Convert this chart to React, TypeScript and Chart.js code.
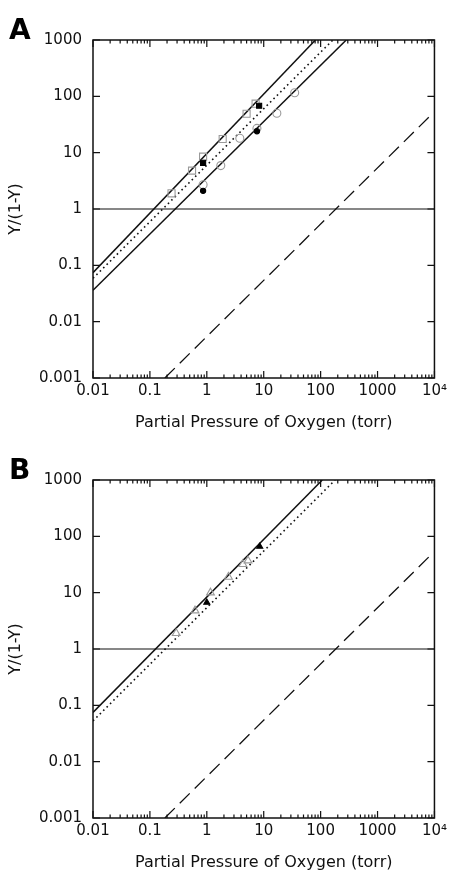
import React, { useEffect, useRef } from 'react';
import { Chart, registerables } from 'chart.js';

Chart.register(...registerables);

const FONT = 'DejaVu Sans';

const PANEL_LETTERS = ['A', 'B'];
const X_TICKS = [0.01, 0.1, 1, 10, 100, 1000, 10000];
const X_TICK_LABELS = ['0.01', '0.1', '1', '10', '100', '1000', '10\u2074'];
const Y_TICKS = [0.001, 0.01, 0.1, 1, 10, 100, 1000];
const Y_TICK_LABELS = ['0.001', '0.01', '0.1', '1', '10', '100', '1000'];
const X_TITLE = 'Partial Pressure of Oxygen (torr)';
const Y_TITLE = 'Y/(1-Y)';

// Reference line Y/(1-Y) = 1
const UNITY_X = [0.01, 10000];
const UNITY_Y = [1, 1];

// Panel A markers
const A_OPEN_SQ_X = [0.24, 0.55, 0.86, 1.9, 5.0, 7.2];
const A_OPEN_SQ_Y = [1.9, 4.8, 8.5, 17.5, 49, 74];
const A_FILL_SQ_X = [0.86, 8.3];
const A_FILL_SQ_Y = [6.6, 68];
const A_FILL_CI_X = [0.86, 7.6];
const A_FILL_CI_Y = [2.1, 24];
const A_OPEN_CI_X = [0.86, 1.76, 3.8, 7.6, 17, 35];
const A_OPEN_CI_Y = [2.7, 5.9, 18, 27, 50, 116];

// Panel A lines
const A_UPPER_X = [0.01, 81];
const A_UPPER_Y = [0.074, 1000];
const A_DOTTED_X = [0.01, 164];
const A_DOTTED_Y = [0.059, 1000];
const A_LOWER_X = [0.01, 282];
const A_LOWER_Y = [0.036, 1000];
const A_DASHED_X = [0.183, 8150];
const A_DASHED_Y = [0.001, 43.6];

// Panel B markers
const B_FILL_TRI_X = [1.0, 8.5];
const B_FILL_TRI_Y = [6.7, 66];
const B_OPEN_TRI_X = [0.29, 0.62, 1.16, 2.4, 4.3, 5.3];
const B_OPEN_TRI_Y = [1.9, 4.8, 10, 19, 32, 37];

// Panel B lines
const B_SOLID_X = [0.01, 107];
const B_SOLID_Y = [0.075, 1000];
const B_DOTTED_X = [0.01, 180];
const B_DOTTED_Y = [0.053, 1000];
const B_DASHED_X = [0.183, 8150];
const B_DASHED_Y = [0.001, 44];

const pts = (xs: number[], ys: number[]) => xs.map((x, i) => ({ x, y: ys[i] }));

const markers = (xs: number[], ys: number[], style: string, radius: number, fill: string, stroke: string) => ({
  data: pts(xs, ys),
  showLine: false,
  pointStyle: style,
  pointRadius: radius,
  pointBackgroundColor: fill,
  pointBorderColor: stroke,
  pointBorderWidth: 1.1,
});

const line = (xs: number[], ys: number[], dash: number[], width: number) => ({
  data: pts(xs, ys),
  showLine: true,
  pointRadius: 0,
  borderColor: '#111',
  borderWidth: width,
  borderDash: dash,
  fill: false,
});

const framePlugin = {
  id: 'frame',
  afterDraw(chart: any, _args: any, opts: any) {
    const { ctx, chartArea } = chart;
    const { left, right, top, bottom } = chartArea;
    const xs = chart.scales.x;
    const ys = chart.scales.y;
    ctx.save();
    ctx.strokeStyle = '#111';
    ctx.lineWidth = 1.5;
    ctx.strokeRect(left, top, right - left, bottom - top);
    ctx.lineWidth = 1.2;
    ctx.beginPath();
    X_TICKS.forEach((v, i) => {
      const px = xs.getPixelForValue(v);
      ctx.moveTo(px, bottom);
      ctx.lineTo(px, bottom - 7);
      ctx.moveTo(px, top);
      ctx.lineTo(px, top + 7);
      if (i < X_TICKS.length - 1) {
        for (let k = 2; k <= 9; k++) {
          const p = xs.getPixelForValue(v * k);
          ctx.moveTo(p, bottom);
          ctx.lineTo(p, bottom - 3.5);
          ctx.moveTo(p, top);
          ctx.lineTo(p, top + 3.5);
        }
      }
    });
    Y_TICKS.forEach((v) => {
      const py = ys.getPixelForValue(v);
      ctx.moveTo(left, py);
      ctx.lineTo(left + 7, py);
      ctx.moveTo(right, py);
      ctx.lineTo(right - 7, py);
    });
    ctx.stroke();
    if (opts && opts.letter) {
      ctx.font = `bold 28px "${FONT}"`;
      ctx.fillStyle = '#000';
      ctx.textBaseline = 'alphabetic';
      ctx.textAlign = 'left';
      ctx.fillText(opts.letter, 9, 39);
    }
    ctx.restore();
  },
};

function makeConfig(datasets: any[], letter: string): any {
  return {
    type: 'scatter',
    data: { datasets },
    options: {
      animation: false,
      responsive: false,
      maintainAspectRatio: false,
      layout: { padding: { top: 40, right: 16, left: 6, bottom: 8 } },
      plugins: {
        legend: { display: false },
        tooltip: { enabled: false },
        frame: { letter },
      },
      scales: {
        x: {
          type: 'logarithmic',
          position: 'bottom',
          min: 0.01,
          max: 10000,
          afterBuildTicks: (s: any) => {
            s.ticks = X_TICKS.map((v) => ({ value: v }));
          },
          afterFit: (s: any) => {
            s.height = 54;
          },
          grid: { display: false, drawTicks: false },
          border: { display: false },
          ticks: {
            callback: (_v: any, i: number) => X_TICK_LABELS[i],
            font: { family: FONT, size: 15 },
            color: '#111',
            padding: 4,
            maxRotation: 0,
            autoSkip: false,
          },
          title: {
            display: true,
            text: X_TITLE,
            font: { family: FONT, size: 16 },
            color: '#111',
            padding: 0,
          },
        },
        y: {
          type: 'logarithmic',
          position: 'left',
          min: 0.001,
          max: 1000,
          afterBuildTicks: (s: any) => {
            s.ticks = Y_TICKS.map((v) => ({ value: v }));
          },
          afterFit: (s: any) => {
            s.width = 87;
          },
          grid: { display: false, drawTicks: false },
          border: { display: false },
          ticks: {
            callback: (_v: any, i: number) => Y_TICK_LABELS[i],
            font: { family: FONT, size: 15 },
            color: '#111',
            padding: 11,
            autoSkip: false,
          },
          title: {
            display: true,
            text: Y_TITLE,
            font: { family: FONT, size: 16 },
            color: '#111',
            padding: 0,
          },
        },
      },
    },
    plugins: [framePlugin],
  };
}

const OPEN_GRAY = '#9a9a9a';

const datasetsA = [
  markers(A_FILL_SQ_X, A_FILL_SQ_Y, 'rect', 3.6, '#000', '#000'),
  markers(A_FILL_CI_X, A_FILL_CI_Y, 'circle', 2.6, '#000', '#000'),
  markers(A_OPEN_SQ_X, A_OPEN_SQ_Y, 'rect', 5, 'rgba(255,255,255,0)', OPEN_GRAY),
  markers(A_OPEN_CI_X, A_OPEN_CI_Y, 'circle', 4, 'rgba(255,255,255,0)', OPEN_GRAY),
  line(A_UPPER_X, A_UPPER_Y, [], 1.5),
  line(A_DOTTED_X, A_DOTTED_Y, [1.6, 3.2], 1.6),
  line(A_LOWER_X, A_LOWER_Y, [], 1.5),
  line(A_DASHED_X, A_DASHED_Y, [14, 7], 1.3),
  line(UNITY_X, UNITY_Y, [], 1.2),
];

const datasetsB = [
  markers(B_FILL_TRI_X, B_FILL_TRI_Y, 'triangle', 3.5, '#000', '#000'),
  markers(B_OPEN_TRI_X, B_OPEN_TRI_Y, 'triangle', 4.5, 'rgba(255,255,255,0)', OPEN_GRAY),
  line(B_SOLID_X, B_SOLID_Y, [], 1.5),
  line(B_DOTTED_X, B_DOTTED_Y, [1.6, 3.2], 1.6),
  line(B_DASHED_X, B_DASHED_Y, [14, 7], 1.3),
  line(UNITY_X, UNITY_Y, [], 1.2),
];

function Panel({ datasets, letter, top }: { datasets: any[]; letter: string; top: number }) {
  const ref = useRef<HTMLCanvasElement | null>(null);
  useEffect(() => {
    if (!ref.current) return;
    const chart = new Chart(ref.current, makeConfig(datasets, letter));
    return () => chart.destroy();
  }, [datasets, letter]);
  return (
    <canvas
      ref={ref}
      width={451}
      height={440}
      style={{ position: 'absolute', left: 0, top, width: 451, height: 440, display: 'block' }}
    />
  );
}

export default function App() {
  return (
    <div
      style={{
        position: 'fixed',
        left: 0,
        top: 0,
        width: 451,
        height: 872,
        overflow: 'hidden',
        background: '#fff',
      }}
    >
      <Panel datasets={datasetsA} letter={PANEL_LETTERS[0]} top={0} />
      <Panel datasets={datasetsB} letter={PANEL_LETTERS[1]} top={440} />
    </div>
  );
}
